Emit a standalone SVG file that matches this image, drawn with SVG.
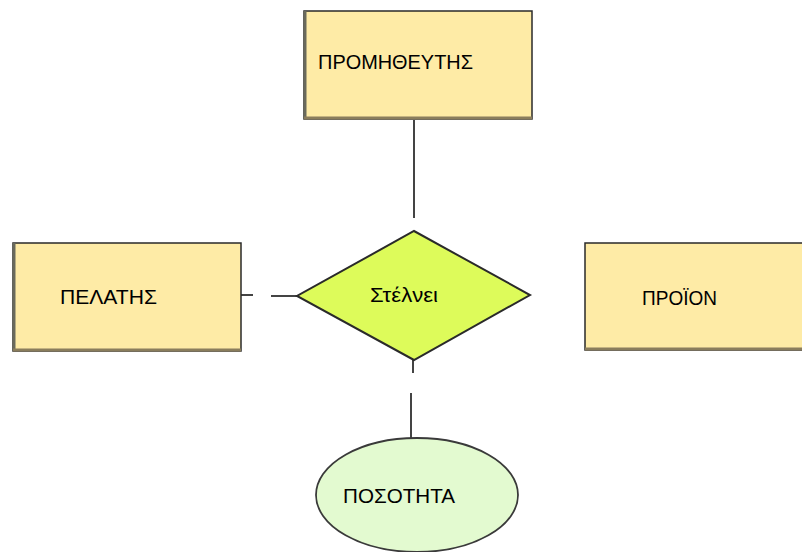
<svg xmlns="http://www.w3.org/2000/svg" width="802" height="552" viewBox="0 0 802 552">
<style>
.box{fill:#FEEBA6;stroke:#2a2a2a;stroke-width:1.5}
.lb{stroke:#6a6a5c;stroke-width:3}
.bb{stroke:#8a7d5c;stroke-width:3}
.t{font-family:"Liberation Sans",Arial,sans-serif;font-size:20px;fill:#000}
.c{stroke:#444;stroke-width:2;fill:none}
</style>
<rect width="802" height="552" fill="#fff"/>
<g id="connectors">
<line class="c" x1="414" y1="120" x2="414" y2="218"/>
<line class="c" x1="241" y1="295" x2="253" y2="295"/>
<line class="c" x1="271" y1="296" x2="297" y2="296"/>
<line class="c" x1="413" y1="360" x2="413" y2="373"/>
<line class="c" x1="411" y1="393" x2="411" y2="438"/>
</g>
<g id="promitheftis">
<rect class="box" x="304" y="11" width="228" height="108"/>
<line class="lb" x1="305" y1="11" x2="305" y2="119"/>
<line class="bb" x1="304" y1="118" x2="532" y2="118"/>
<text class="t" x="318" y="69" textLength="155" lengthAdjust="spacingAndGlyphs">ΠΡΟΜΗΘΕΥΤΗΣ</text>
</g>
<g id="pelatis">
<rect class="box" x="13" y="243" width="228" height="108"/>
<line class="lb" x1="14" y1="243" x2="14" y2="351"/>
<line class="bb" x1="13" y1="350" x2="241" y2="350"/>
<text class="t" x="60" y="304" textLength="97" lengthAdjust="spacingAndGlyphs">ΠΕΛΑΤΗΣ</text>
</g>
<g id="proion">
<rect class="box" x="585" y="243" width="230" height="107"/>
<line class="bb" x1="585" y1="349" x2="802" y2="349"/>
<text class="t" x="642" y="305" textLength="75" lengthAdjust="spacingAndGlyphs">ΠΡΟΪΟΝ</text>
</g>
<g id="stelnei">
<polygon points="414,231 530,295 414,360 297,296" fill="#DDFB5A" stroke="#2a2a2a" stroke-width="2"/>
<text class="t" x="370" y="302" font-size="17" textLength="68" lengthAdjust="spacingAndGlyphs">Στέλνει</text>
</g>
<g id="posotita">
<ellipse cx="417" cy="495" rx="101" ry="57" fill="#E3FAD0" stroke="#3a3a3a" stroke-width="1.8"/>
<text class="t" x="343" y="503" textLength="112" lengthAdjust="spacingAndGlyphs">ΠΟΣΟΤΗΤΑ</text>
</g>
</svg>
